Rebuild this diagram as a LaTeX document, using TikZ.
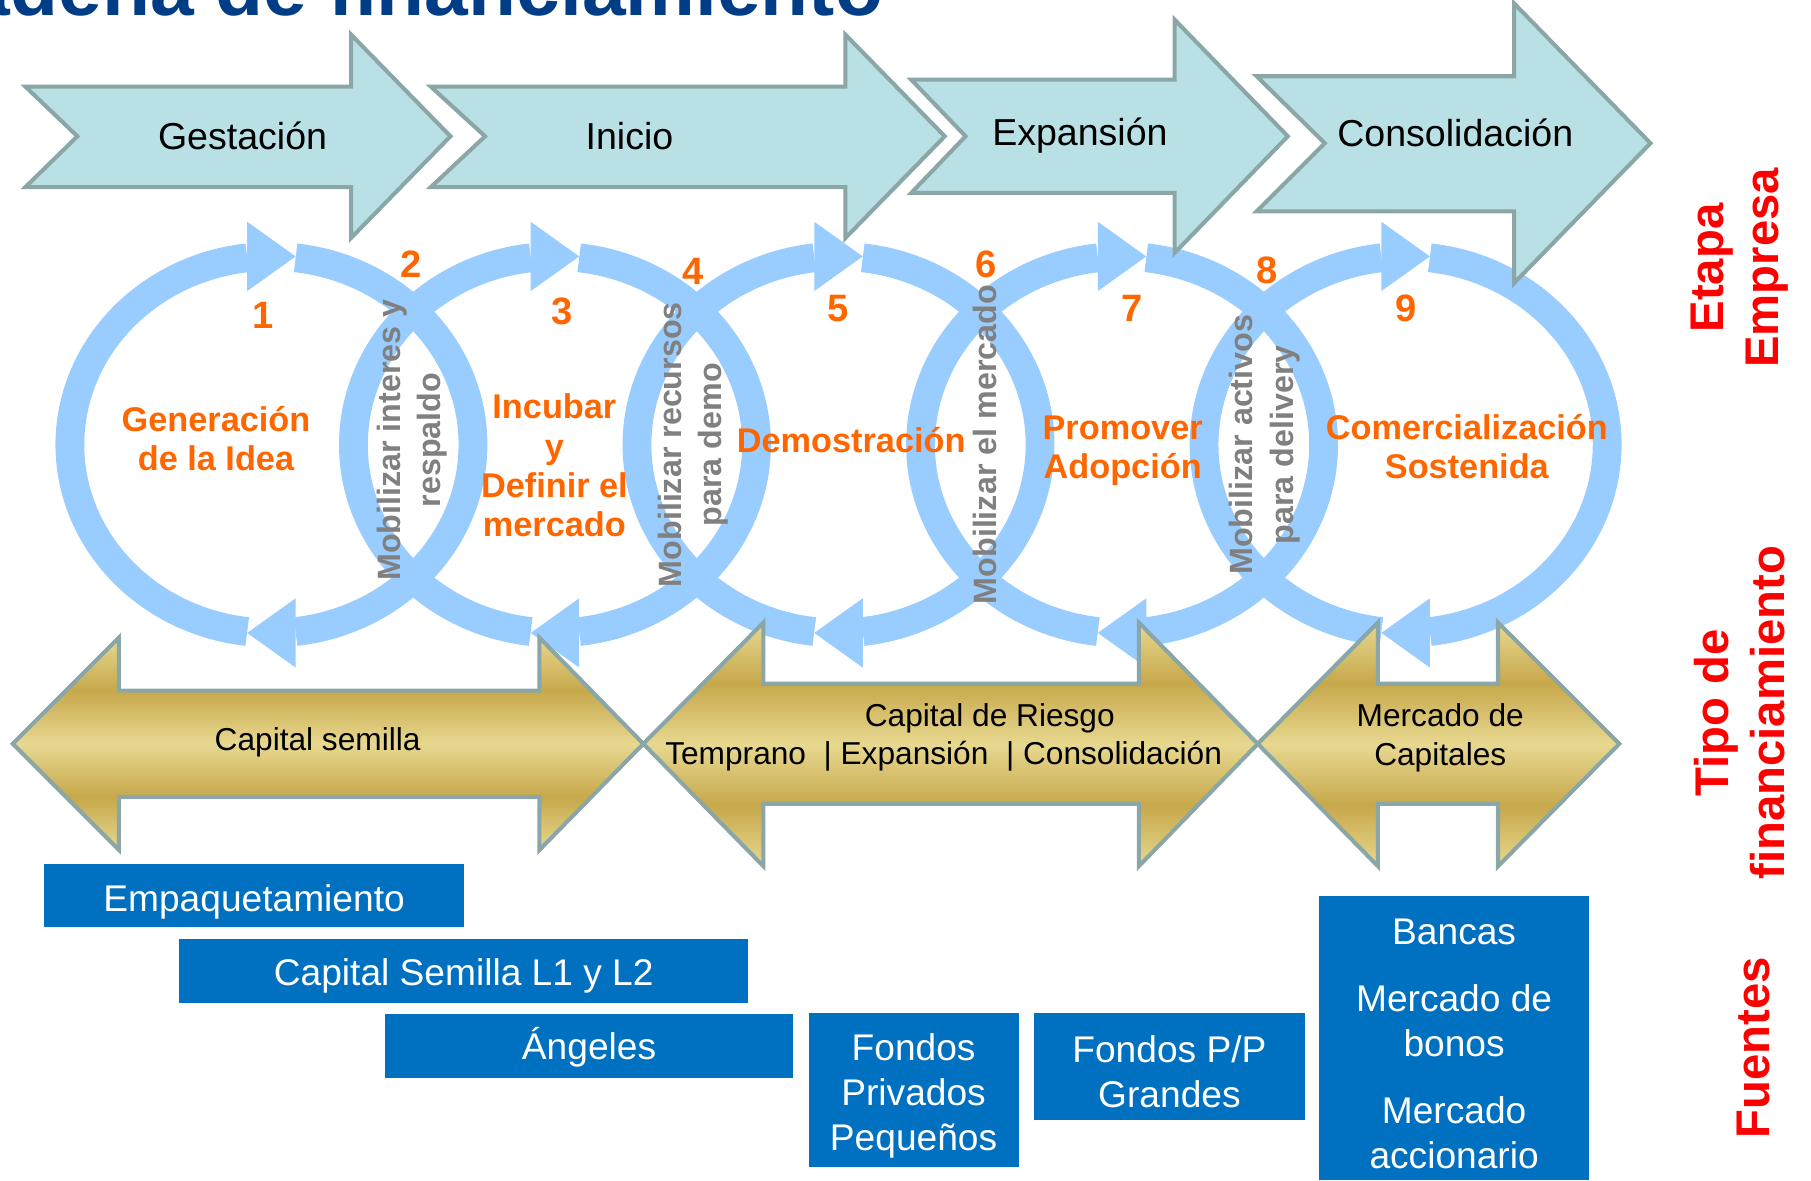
\documentclass[tikz,border=0pt]{standalone}
\usepackage{fontspec}
\setmainfont{Liberation Sans}

\definecolor{stagefill}{RGB}{185,224,228}
\definecolor{arrowedge}{RGB}{138,166,166}
\definecolor{loopblue}{RGB}{153,204,255}
\definecolor{phaseorange}{RGB}{255,102,0}
\definecolor{lensgray}{RGB}{128,128,128}
\definecolor{sourceblue}{RGB}{0,112,192}
\definecolor{titleblue}{RGB}{0,61,134}
\definecolor{goldlight}{RGB}{231,216,144}
\definecolor{golddark}{RGB}{199,168,75}
\definecolor{sidered}{RGB}{255,0,0}

\pgfdeclareverticalshading{goldbar}{100bp}{color(0bp)=(goldlight); color(25bp)=(goldlight);
  color(37.5bp)=(golddark); color(50bp)=(goldlight); color(62.5bp)=(golddark);
  color(75bp)=(goldlight); color(100bp)=(goldlight)}

\begin{document}
\begin{tikzpicture}[x=0.02cm, y=-0.02cm,
    loopband/.style={draw=loopblue, line width=14.2pt},
    loophead/.style={fill=loopblue},
    stagearrow/.style={fill=stagefill, draw=arrowedge, line width=2pt},
    fundarrow/.style={draw=arrowedge, line width=2pt, shade, shading=goldbar},
    stagelabel/.style={inner sep=0, font=\fontsize{18.5}{22}\selectfont},
    numlabel/.style={inner sep=0, text=phaseorange, font=\bfseries\fontsize{18.8}{22}\selectfont},
    phaselabel/.style={inner sep=0, align=center, text=phaseorange, font=\bfseries\fontsize{16.9}{19.3}\selectfont},
    lenslabel/.style={inner sep=0, align=center, rotate=90, text=lensgray, font=\bfseries\fontsize{15.9}{19.9}\selectfont},
    fundlabel/.style={inner sep=0, align=center, font=\fontsize{15.6}{19.3}\selectfont},
    sourcebox/.style={fill=sourceblue, text=white, align=center, inner sep=0, font=\fontsize{18.3}{22.2}\selectfont},
    sidelabel/.style={inner sep=0, align=center, rotate=90, text=sidered, font=\bfseries\fontsize{23.3}{27.3}\selectfont}]
      \useasboundingbox (0,0) rectangle (1568,1022);
      \clip (0,0) rectangle (1568,1022);

      \foreach \cx in {235,480.5,726,971.5,1217}{
        \draw[loopband] (\cx,385) ++(-83.1:174.5 and 163) arc[start angle=-83.1, end angle=83.1, x radius=174.5, y radius=163];
        \draw[loopband] (\cx,385) ++(96.9:174.5 and 163) arc[start angle=96.9, end angle=263.1, x radius=174.5, y radius=163];
        \fill[loophead] (\cx-21,192) -- (\cx-21,252) -- (\cx+21,222) -- cycle;
        \fill[loophead] (\cx+21,518) -- (\cx+21,578) -- (\cx-21,548) -- cycle;
      }

      \draw[fundarrow] (11,644) -- (103,552) -- (103,598) -- (467,598) -- (467,552) -- (557,644)
        -- (467,736) -- (467,690) -- (103,690) -- (103,736) -- cycle;
      \draw[fundarrow] (557,644) -- (661,539) -- (661,592) -- (986,592) -- (986,539) -- (1089,644)
        -- (986,750) -- (986,696) -- (661,696) -- (661,750) -- cycle;
      \draw[fundarrow] (1089,644) -- (1193,539) -- (1193,592) -- (1297,592) -- (1297,539) -- (1402,644)
        -- (1297,750) -- (1297,696) -- (1193,696) -- (1193,750) -- cycle;

      \draw[stagearrow] (22,75) -- (304,75) -- (304,30) -- (390,118) -- (304,206) -- (304,162) -- (22,162) -- (67,118) -- cycle;
      \draw[stagearrow] (373,75) -- (732,75) -- (732,30) -- (818,118) -- (732,206) -- (732,162) -- (373,162) -- (420,118) -- cycle;
      \draw[stagearrow] (789,69) -- (1017,69) -- (1017,17) -- (1115,118) -- (1017,219) -- (1017,167) -- (789,167) -- (836,118) -- cycle;
      \draw[stagearrow] (1088,66) -- (1311,66) -- (1311,3) -- (1429,124) -- (1311,245) -- (1311,183) -- (1088,183) -- (1147,124) -- cycle;

      \node[inner sep=0, anchor=base east, text=titleblue, font=\bfseries\fontsize{38.7}{40}\selectfont] (title) at (765,13) {Cadena de financiamiento};

      \node[stagelabel] (gestacion) at (210,118) {Gestación};
      \node[stagelabel] (inicio) at (545,118) {Inicio};
      \node[stagelabel] (expansion) at (935,117) {Expansión};
      \node[stagelabel] (consolidacion) at (1260,115) {Consolidación};

      \foreach \n/\px/\py in {1/228/273, 2/356/229, 3/487/270, 4/600/235, 5/726/267, 6/854/229, 7/980/267, 8/1097/234, 9/1217/267}
        \node[numlabel] (num\n) at (\px,\py) {\n};

      \node[phaselabel] (idea) at (187,380) {Generación\\de la Idea};
      \node[phaselabel] (incubar) at (480,403) {Incubar\\y\\Definir el\\mercado};
      \node[phaselabel] (demo) at (737,381) {Demostración};
      \node[phaselabel] (adopcion) at (972,390) {Promover\\Adopción};
      \node[phaselabel] (comercial) at (1270,387) {Comercialización\\Sostenida};

      \node[lenslabel] (interes) at (357,381) {Mobilizar interes y\\respaldo};
      \node[lenslabel] (recursos) at (600,385) {Mobilizar recursos\\para demo};
      \node[lenslabel] (mercado) at (853,385) {Mobilizar el mercado};
      \node[lenslabel] (activos) at (1095,385) {Mobilizar activos\\para delivery};

      \node[fundlabel] (semilla) at (275,643) {Capital semilla};
      \node[fundlabel] (riesgo) at (857,622) {Capital de Riesgo};
      \node[fundlabel] (riesgoetapas) at (817,655) {Temprano\ \ | Expansión\ \ | Consolidación};
      \node[fundlabel] (capitales) at (1247,639) {Mercado de\\Capitales};

      \node[sourcebox, minimum width=7.28cm, minimum height=1.10cm] (empaque) at (220,775.5) {\rule{0pt}{19pt}Empaquetamiento};
      \node[sourcebox, minimum width=9.86cm, minimum height=1.10cm] (semillal) at (401.5,840.5) {\rule{0pt}{18.5pt}Capital Semilla L1 y L2};
      \node[sourcebox, minimum width=7.08cm, minimum height=1.10cm] (angeles) at (510,905.5) {\rule{0pt}{17pt}Ángeles};
      \node[sourcebox, minimum width=3.64cm, minimum height=2.66cm] (pequenos) at (791,943.5) {\rule{0pt}{19pt}Fondos\\Privados\\Pequeños};
      \node[sourcebox, minimum width=4.70cm, minimum height=1.86cm] (grandes) at (1012.5,923.5) {\rule{0pt}{18pt}Fondos P/P\\Grandes};
      \node[sourcebox, minimum width=4.68cm, minimum height=4.92cm] (bancas) at (1259,899) {\rule{0pt}{18pt}Bancas\\[10.8pt]Mercado de\\bonos\\[10.8pt]Mercado\\accionario};

      \node[sidelabel] (etapa) at (1506,232) {Etapa\\Empresa};
      \node[sidelabel] (tipo) at (1506,617) {Tipo de\\financiamiento};
      \node[sidelabel] (fuentes) at (1518,907) {Fuentes};
\end{tikzpicture}
\end{document}
